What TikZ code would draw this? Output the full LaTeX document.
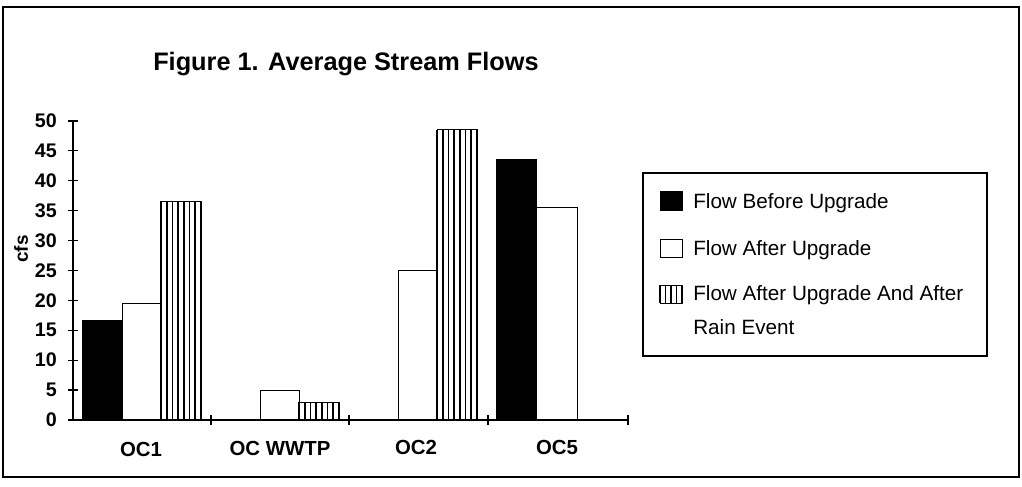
\documentclass[tikz,border=0pt]{standalone}
\usepackage{fontspec}
\setmainfont{Liberation Sans}
\begin{document}
\begin{tikzpicture}[x=0.025cm,y=-0.025cm,
  bar/.style={draw=black,line width=0.7pt},
  stripe/.style={line width=1.25pt},
  axisline/.style={line width=0.9pt},
  ticklbl/.style={anchor=east,inner sep=0pt,font=\fontsize{14}{16}\selectfont\bfseries},
  catlbl/.style={inner sep=0pt,font=\fontsize{14.5}{16}\selectfont\bfseries},
  leglbl/.style={anchor=base west,inner sep=0pt,align=left,font=\fontsize{14.7}{24}\selectfont}]
\useasboundingbox (0,0) rectangle (1022,487);
\draw[line width=0.8pt] (3,7) rectangle (1019,477);
% title
\node[anchor=base west,inner sep=0pt,font=\fontsize{18}{20}\selectfont\bfseries] (title) at (153,70) {Figure 1. Average Stream Flows};
% y axis label
\node[rotate=90,inner sep=0pt,font=\fontsize{13.5}{15}\selectfont\bfseries] (ylabel) at (21,249) {cfs};
% chart
\begin{scope}[shift={(0,420)},y=0.1495cm]
  % black bars
  \draw[bar,fill=black] (82,0) rectangle (122,16.7);
  \draw[bar,fill=black] (496,0) rectangle (536,43.5);
  % white bars
  \draw[bar,fill=white] (122,0) rectangle (161,19.5);
  \draw[bar,fill=white] (260,0) rectangle (299,5);
  \draw[bar,fill=white] (398,0) rectangle (437,25);
  \draw[bar,fill=white] (536,0) rectangle (577,35.5);
  % striped bars
  \foreach \xa/\v in {161/36.6, 299/3, 437/48.5} {
    \draw[bar,fill=white] (\xa,0) rectangle (\xa+40,\v);
    \foreach \k in {0,...,7}
      \draw[stripe] (\xa+\k*5.71,0) -- (\xa+\k*5.71,\v);
  }
  % axes
  \draw[axisline] (73,0) -- (73,50);
  \draw[axisline] (73,0) -- (628,0);
  \foreach \v in {0,5,...,50} {
    \draw[axisline] (68,\v) -- (78,\v);
    \node[ticklbl] (t\v) at (57,\v) {\v};
  }
  \foreach \x in {211,349,488,628}
    \draw[axisline] (\x,0.85) -- (\x,-0.85);
\end{scope}
% category labels
\node[catlbl] (c1) at (141,449) {OC1};
\node[catlbl] (c2) at (280,448) {OC WWTP};
\node[catlbl] (c3) at (416,447) {OC2};
\node[catlbl] (c4) at (557,447) {OC5};
% legend
\draw[line width=0.8pt] (643,173) rectangle (987,356);
\draw[bar,fill=black] (660,191) rectangle (682,210);
\draw[bar,fill=white] (660,239) rectangle (682,257);
\draw[bar,fill=white] (660,285) rectangle (682,303);
\foreach \xx in {660,665.5,671,676.5,682}
  \draw[stripe] (\xx,285) -- (\xx,303);
\node[leglbl] (l1) at (693,208) {Flow Before Upgrade};
\node[leglbl] (l2) at (693,255) {Flow After Upgrade};
\node[leglbl] (l3) at (693,334) {Flow After Upgrade And After\\Rain Event};
\end{tikzpicture}
\end{document}
